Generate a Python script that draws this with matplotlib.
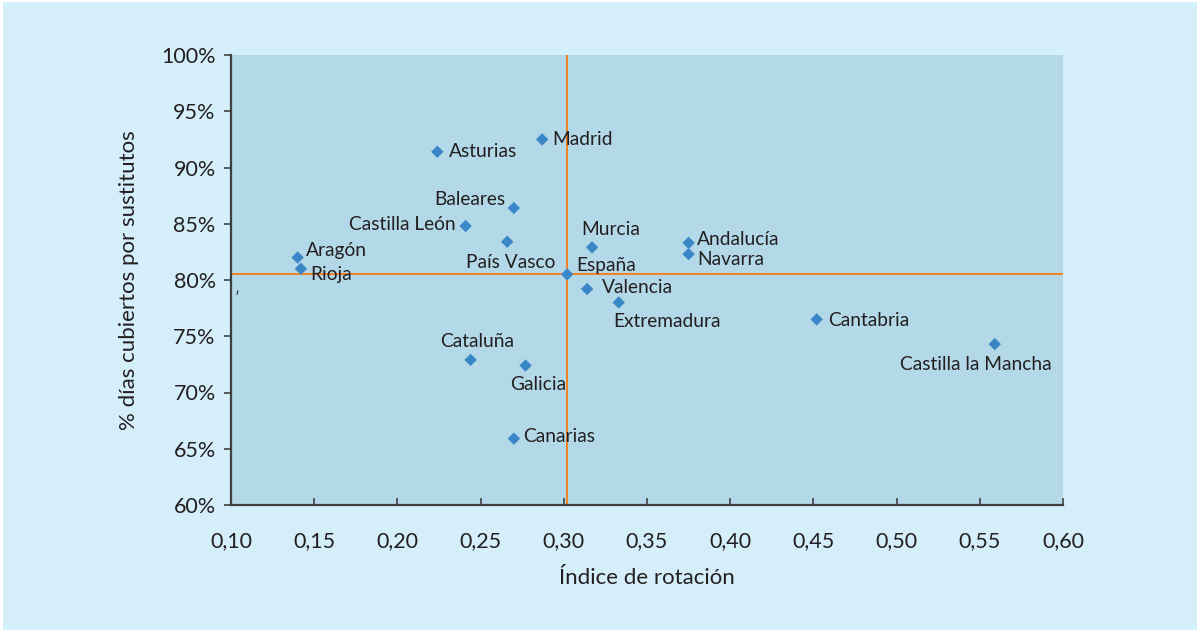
import matplotlib.pyplot as plt
from matplotlib.patches import Rectangle
from matplotlib.ticker import FuncFormatter

regiones = ['Asturias', 'Madrid', 'Baleares', 'Castilla León', 'País Vasco',
            'Aragón', 'Rioja', 'España', 'Murcia', 'Andalucía', 'Navarra',
            'Valencia', 'Extremadura', 'Cantabria', 'Castilla la Mancha',
            'Cataluña', 'Galicia', 'Canarias']
rotacion = [0.224, 0.287, 0.270, 0.241, 0.266, 0.140, 0.142, 0.302, 0.317,
            0.375, 0.375, 0.314, 0.333, 0.452, 0.559, 0.244, 0.277, 0.270]
cubiertos = [91.4, 92.5, 86.4, 84.8, 83.4, 82.0, 81.0, 80.5, 82.9, 83.3,
             82.3, 79.2, 78.0, 76.5, 74.3, 72.9, 72.4, 65.9]
media_x = 0.302
media_y = 80.5

# desplazamiento de cada etiqueta (puntos) y alineación horizontal
etiquetas = {
    'Asturias': (8, 0, 'left'),
    'Madrid': (7, 0, 'left'),
    'Baleares': (-6, 6, 'right'),
    'Castilla León': (-7, 1, 'right'),
    'País Vasco': (35, -15, 'right'),
    'Aragón': (6, 5, 'left'),
    'Rioja': (6.5, -4, 'left'),
    'España': (6.5, 6.5, 'left'),
    'Murcia': (-8, 13, 'left'),
    'Andalucía': (6, 2.4, 'left'),
    'Navarra': (6, -4, 'left'),
    'Valencia': (11, 1.4, 'left'),
    'Extremadura': (-4, -13.5, 'left'),
    'Cantabria': (8, -1, 'left'),
    'Castilla la Mancha': (-14, -15, 'center'),
    'Cataluña': (5, 13, 'center'),
    'Galicia': (9, -14, 'center'),
    'Canarias': (6.5, 1.6, 'left'),
}

plt.rcParams['font.family'] = ['Lato', 'DejaVu Sans']
texto = '#231f20'

fig = plt.figure(figsize=(11.97, 6.3), dpi=100, facecolor='white')
fig.patches.append(Rectangle((3 / 1197, 0), 1, 1 - 2 / 630, transform=fig.transFigure,
                             facecolor='#d4eefa', edgecolor='none', zorder=-10))
ax = fig.add_axes([231 / 1197, 125 / 630, 832 / 1197, 450 / 630])
ax.set_facecolor('#b3d8e8')

ax.axvline(media_x, color='#f58220', lw=1.4, zorder=2)
ax.axhline(media_y, color='#f58220', lw=1.4, zorder=2)
ax.scatter(rotacion, cubiertos, marker='D', s=40, color='#3a87c8',
           edgecolor='none', zorder=3)

for nombre, x, y in zip(regiones, rotacion, cubiertos):
    dx, dy, ha = etiquetas[nombre]
    ax.annotate(nombre, (x, y), xytext=(dx, dy), textcoords='offset points',
                ha=ha, va='center', fontsize=13.8, color=texto, zorder=4)

ax.text(0.1036, 78.4, '′', fontsize=10, color=texto, ha='center', va='center')

ax.set_xlim(0.10, 0.60)
ax.set_ylim(60, 100)
ax.set_xticks([0.10 + 0.05 * i for i in range(11)])
ax.set_yticks(range(60, 101, 5))
ax.xaxis.set_major_formatter(FuncFormatter(lambda v, p: f'{v:.2f}'.replace('.', ',')))
ax.yaxis.set_major_formatter(FuncFormatter(lambda v, p: f'{v:.0f}%'))

for s in ['top', 'right']:
    ax.spines[s].set_visible(False)
for s in ['left', 'bottom']:
    ax.spines[s].set_color('#404040')
    ax.spines[s].set_linewidth(1.6)
ax.tick_params(axis='y', direction='out', length=5, width=1.2, color='#404040',
               labelsize=15.5, labelcolor=texto, pad=6)
ax.tick_params(axis='x', direction='in', length=5, width=1.2, color='#404040',
               labelsize=15.5, labelcolor=texto, pad=19)

ax.set_xlabel('Índice de rotación', fontsize=16, color=texto, labelpad=12)
ax.set_ylabel('% días cubiertos por sustitutos', fontsize=16, color=texto, labelpad=16)

fig.savefig('out.png', dpi=100, facecolor=fig.get_facecolor())
